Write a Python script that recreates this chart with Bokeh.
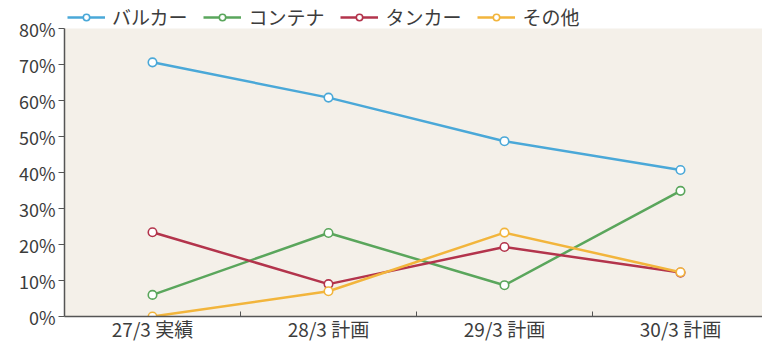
from bokeh.plotting import figure
from bokeh.models import (Range1d, FixedTicker, PrintfTickFormatter, Legend, LegendItem,
                          BoxAnnotation)
from bokeh.embed import file_html
from bokeh.resources import INLINE

categories = ["27/3 実績", "28/3 計画", "29/3 計画", "30/3 計画"]
series_names = ["バルカー", "コンテナ", "タンカー", "その他"]
bulk = [70.6, 60.8, 48.7, 40.7]
container = [6.0, 23.2, 8.7, 34.9]
tanker = [23.4, 9.0, 19.3, 12.2]
other = [0.0, 7.0, 23.3, 12.3]
y_ticks = [0, 10, 20, 30, 40, 50, 60, 70, 80]

colors = ["#4aa8d8", "#5aa65c", "#b3344c", "#f2b53c"]
all_series = [bulk, container, tanker, other]

JP = "Noto Sans CJK JP"
x_idx = list(range(len(categories)))
y_max = y_ticks[-1]

p = figure(width=762, height=344, output_backend="svg", toolbar_location=None,
           x_range=Range1d(-0.5, 3.466), y_range=Range1d(0, y_max * 316 / 288),
           min_border_left=64, min_border_right=0, min_border_top=0, min_border_bottom=28)
p.background_fill_color = "#ffffff"
p.border_fill_color = "#ffffff"
p.outline_line_color = None
p.xgrid.visible = False
p.ygrid.visible = False

# plotting area background (0% .. 80%)
p.add_layout(BoxAnnotation(bottom=0, top=y_max, fill_color="#f4f0e9", fill_alpha=1,
                           line_color=None, level="underlay"))

items = []
for name, vals, c in zip(series_names, all_series, colors):
    ln = p.line(x_idx, vals, line_color=c, line_width=2.5)
    sc = p.scatter(x_idx, vals, marker="circle", size=8.5, fill_color="white",
                   line_color=c, line_width=1.6)
    items.append(LegendItem(label=name, renderers=[ln, sc]))

# axes
p.xaxis.ticker = FixedTicker(ticks=x_idx, minor_ticks=[0.5, 1.5, 2.5])
p.xaxis.major_label_overrides = {i: c for i, c in zip(x_idx, categories)}
p.xaxis.major_tick_line_color = None
p.xaxis.minor_tick_in = 5
p.xaxis.minor_tick_out = 0
p.xaxis.minor_tick_line_color = "#555555"
p.xaxis.axis_line_color = "#555555"
p.xaxis.axis_line_width = 1.5
p.xaxis.major_label_text_font = JP
p.xaxis.major_label_text_font_size = "19px"
p.xaxis.major_label_text_color = "#3c3c3c"
p.xaxis.major_label_standoff = -8

p.yaxis.ticker = FixedTicker(ticks=y_ticks)
p.yaxis.bounds = (0, y_max)
p.yaxis.formatter = PrintfTickFormatter(format="%d%%")
p.yaxis.minor_tick_line_color = None
p.yaxis.major_tick_in = 0
p.yaxis.major_tick_out = 6
p.yaxis.major_tick_line_color = "#555555"
p.yaxis.axis_line_color = "#555555"
p.yaxis.axis_line_width = 1.5
p.yaxis.major_label_text_font = JP
p.yaxis.major_label_text_font_size = "18px"
p.yaxis.major_label_text_color = "#3c3c3c"
p.yaxis.major_label_standoff = 3

legend = Legend(items=items, orientation="horizontal", location="top_left",
                glyph_width=38, glyph_height=16, label_text_font=JP,
                label_text_font_size="19px", label_text_color="#3c3c3c",
                label_standoff=7, spacing=16, padding=0, margin=3,
                border_line_color=None, background_fill_alpha=0)
p.add_layout(legend, "center")

open("out.html", "w").write(file_html(p, INLINE))
